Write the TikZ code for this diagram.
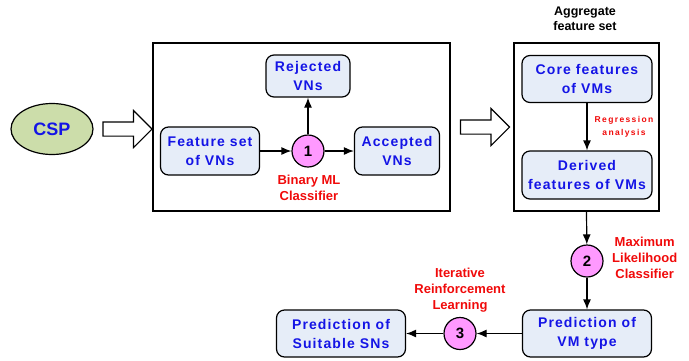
\documentclass[tikz,border=0pt]{standalone}
\usepackage{fontspec}
\setmainfont{Liberation Sans}
\newfontfamily\spacedfont[LetterSpace=8]{Liberation Sans}
\newfontfamily\smallspaced[LetterSpace=16]{Liberation Sans}
\usetikzlibrary{arrows.meta}
\usetikzlibrary{shapes.geometric,shapes.arrows}

\definecolor{boxfill}{RGB}{230,237,248}
\definecolor{cspfill}{RGB}{204,221,170}
\definecolor{stepfill}{RGB}{255,153,255}
\definecolor{textblue}{RGB}{20,20,230}
\definecolor{textred}{RGB}{240,10,10}

\begin{document}
\begin{tikzpicture}[x=1pt, y=-1pt, every text node part/.style={align=center},
  block/.style={draw, line width=1.2pt, rounded corners=8pt, fill=boxfill, inner sep=2pt,
    font=\spacedfont\bfseries\fontsize{14}{19}\selectfont, text=textblue},
  stage/.style={draw, line width=1.2pt, circle, fill=stepfill, minimum size=32pt, inner sep=0pt,
    font=\bfseries\fontsize{15}{18}\selectfont},
  frame/.style={draw, line width=1.2pt, inner sep=0pt},
  note/.style={font=\bfseries\fontsize{13}{16}\selectfont, text=textred, inner sep=0pt},
  hollow/.style={draw, line width=1.1pt, single arrow, minimum height=49pt, minimum width=36pt,
    inner sep=6.5pt, single arrow head extend=11.5pt, single arrow tip angle=90},
  link/.style={line width=1.2pt, -{Latex[length=10pt, width=8pt]}}]

  \useasboundingbox (0,0) rectangle (689,360);

  % Source
  \node[draw, line width=1.2pt, ellipse, fill=cspfill, minimum width=82pt, minimum height=51pt,
    font=\bfseries\fontsize{18}{20}\selectfont, text=textblue] (csp) at (52,129) {CSP};
  \node[hollow] (arrA) at (124,129) {};

  % First stage: binary classification
  \node[frame, minimum width=297pt, minimum height=168pt] (box1) at (301.5,127) {};
  \node[block, minimum width=99pt, minimum height=48pt] (featvn) at (210,151) {Feature set\\of VNs};
  \node[block, minimum width=84pt, minimum height=42pt] (rejvn) at (308,76) {Rejected\\VNs};
  \node[block, minimum width=85pt, minimum height=48pt] (accvn) at (397,151) {Accepted\\VNs};
  \node[stage] (one) at (308,151) {1};
  \node[note] (binlbl) at (309,188) {Binary ML\\Classifier};
  \draw[link] (featvn) -- (one);
  \draw[link] (one) -- (rejvn);
  \draw[link] (one) -- (accvn);

  \node[hollow] (arrB) at (481.5,127) {};

  % Aggregate feature set
  \node[frame, minimum width=145pt, minimum height=168pt] (box2) at (586.5,127) {};
  \node[font=\bfseries\fontsize{12.5}{15}\selectfont, inner sep=0pt] (agglbl) at (585,19) {Aggregate\\feature set};
  \node[block, minimum width=130pt, minimum height=47pt] (core) at (587,79) {Core features\\of VMs};
  \node[block, minimum width=130pt, minimum height=48pt] (derived) at (587,175) {Derived\\features of VMs};
  \draw[link] (core) -- (derived);
  \node[note, font=\smallspaced\bfseries\fontsize{8.5}{13}\selectfont] (reglbl) at (624,127) {Regression\\analysis};

  % Prediction
  \node[stage] (two) at (587,261) {2};
  \node[note, anchor=west, align=left] (mllbl) at (612,258) {Maximum\\Likelihood\\Classifier};
  \node[block, minimum width=129pt, minimum height=47pt] (vmtype) at (587,333.5) {Prediction of\\VM type};
  \node[stage] (three) at (460,333.5) {3};
  \node[note] (rllbl) at (460,290) {Iterative\\Reinforcement\\Learning};
  \node[block, minimum width=129pt, minimum height=47pt] (suitsn) at (341,333.5) {Prediction of\\Suitable SNs};
  \draw[link] (box2.south) -- (two);
  \draw[link] (two) -- (vmtype);
  \draw[link] (vmtype) -- (three);
  \draw[link] (three) -- (suitsn);

\end{tikzpicture}
\end{document}
